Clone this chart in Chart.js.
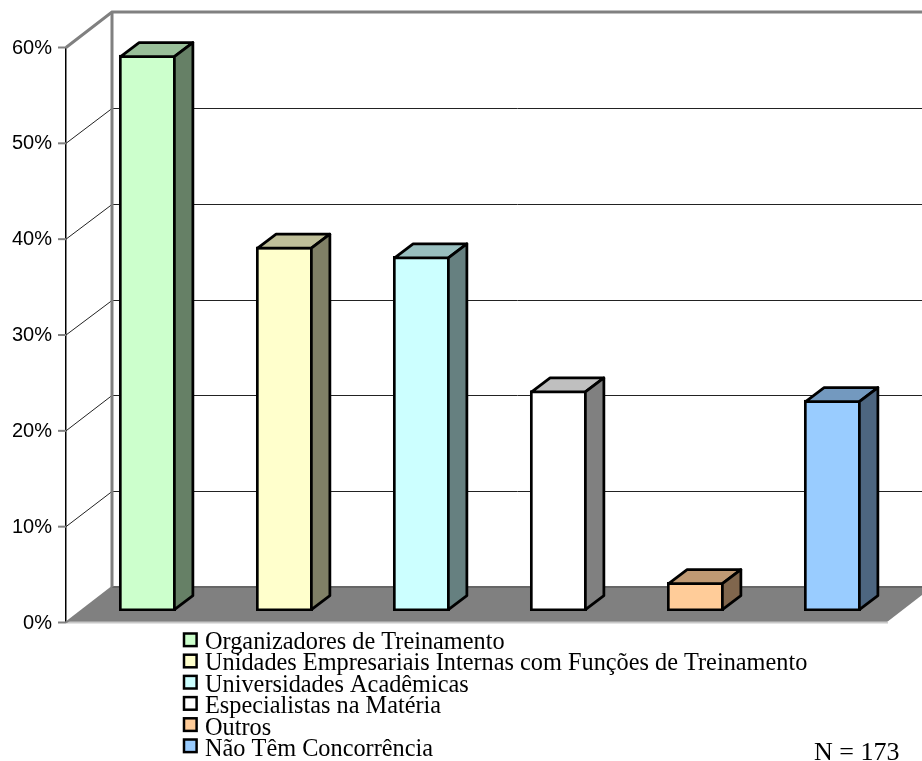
<!DOCTYPE html>
<html>
<head>
<meta charset="utf-8">
<title>Concorrência</title>
<script src="https://cdn.jsdelivr.net/npm/chart.js@4"></script>
<style>
  html, body { margin: 0; padding: 0; background: #fff; }
  canvas { display: block; }
</style>
</head>
<body>
<canvas id="competition-chart" width="922" height="761"></canvas>
<script>
var categories = [
  'Organizadores de Treinamento',
  'Unidades Empresariais Internas com Funções de Treinamento',
  'Universidades Acadêmicas',
  'Especialistas na Matéria',
  'Outros',
  'Não Têm Concorrência'
];
var shares = [58, 38, 37, 23, 3, 22];
var yTickLabels = ['0%', '10%', '20%', '30%', '40%', '50%', '60%'];
var sampleNote = 'N = 173';

var faceColors = ['#ccffcc', '#ffffcc', '#ccffff', '#ffffff', '#ffcc99', '#99ccff'];
var topColors = ['#99bf99', '#bfbf99', '#99bfbf', '#bfbfbf', '#bf9973', '#7399bf'];
var sideColors = ['#668066', '#808066', '#668080', '#808080', '#80664d', '#4d6680'];

// depth of the box the chart sits in, and of each bar inside it
var wallDepth = { x: 46, y: -35.5 };
var barDepth = { x: 18.5, y: -14 };
var barShift = { x: 13, y: -11.5 };
var barLine = 2.75;

function line(ctx, points, color, width) {
  ctx.beginPath();
  points.forEach(function (p, i) {
    if (i == 0) ctx.moveTo(p[0], p[1]);
    else ctx.lineTo(p[0], p[1]);
  });
  ctx.strokeStyle = color;
  ctx.lineWidth = width;
  ctx.stroke();
}

function polygon(ctx, points, fill) {
  ctx.beginPath();
  points.forEach(function (p, i) {
    if (i == 0) ctx.moveTo(p[0], p[1]);
    else ctx.lineTo(p[0], p[1]);
  });
  ctx.closePath();
  ctx.fillStyle = fill;
  ctx.fill();
}

var box3d = {
  id: 'box3d',
  beforeDatasetsDraw: function (chart) {
    var ctx = chart.ctx;
    var area = chart.chartArea;
    var y = chart.scales.y;
    var backLeft = area.left + wallDepth.x;
    var backRight = area.right + wallDepth.x;
    var backBottom = area.bottom + wallDepth.y;
    var backTop = area.top + wallDepth.y;

    ctx.save();

    // tick marks, plus gridlines up the side wall and across the back wall
    y.ticks.forEach(function (tick) {
      var py = y.getPixelForValue(tick.value);
      line(ctx, [[area.left - 8, py], [area.left, py]], '#808080', 2);
      if (tick.value == y.min || tick.value == y.max) return;
      var backY = Math.round(py + wallDepth.y) + 0.5;
      line(ctx, [[area.left, py], [backLeft, backY], [backRight, backY]], '#222', 1);
    });

    // floor
    polygon(ctx, [[area.left, area.bottom], [backLeft, backBottom], [backRight, backBottom], [area.right, area.bottom]], '#808080');
    line(ctx, [[backLeft, backBottom], [backRight, backBottom]], '#666', 2);
    line(ctx, [[area.left, area.bottom], [area.right, area.bottom]], '#c8c8c8', 2);
    line(ctx, [[area.right, area.bottom], [backRight, backBottom]], '#fff', 2);

    // wall edges
    line(ctx, [[area.left, area.bottom], [backLeft, backBottom]], '#808080', 2);
    line(ctx, [[area.left, area.top], [backLeft, backTop], [backRight, backTop]], '#808080', 3);
    line(ctx, [[backLeft, backTop], [backLeft, backBottom]], '#808080', 3);

    // bars stand away from the front edge of the floor
    ctx.translate(barShift.x, barShift.y);
  },
  afterDatasetsDraw: function (chart) {
    var ctx = chart.ctx;
    var inset = barLine / 2;
    chart.getDatasetMeta(0).data.forEach(function (bar, i) {
      var half = bar.width / 2;
      var left = bar.x - half + inset;
      var right = bar.x + half - inset;
      var top = bar.y + inset;
      var bottom = bar.base - inset;
      var dx = barDepth.x;
      var dy = barDepth.y;

      ctx.lineJoin = 'round';
      ctx.lineWidth = barLine;
      ctx.strokeStyle = '#000';

      polygon(ctx, [[left, top], [left + dx, top + dy], [right + dx, top + dy], [right, top]], topColors[i]);
      ctx.stroke();
      polygon(ctx, [[right, top], [right + dx, top + dy], [right + dx, bottom + dy], [right, bottom]], sideColors[i]);
      ctx.stroke();
    });
    ctx.restore();
  }
};

var categoryKey = {
  id: 'categoryKey',
  afterDraw: function (chart) {
    var ctx = chart.ctx;
    ctx.save();
    ctx.font = '24.3px "Liberation Serif"';
    ctx.textBaseline = 'alphabetic';
    categories.forEach(function (name, i) {
      var boxTop = 632.3 + i * 21.2;
      ctx.fillStyle = faceColors[i];
      ctx.fillRect(184, boxTop + 1, 13, 13);
      ctx.strokeStyle = '#000';
      ctx.lineWidth = 2.5;
      ctx.strokeRect(184, boxTop + 1.2, 12.6, 12.6);
      ctx.fillStyle = '#000';
      ctx.fillText(name, 205, 649 + i * 21.4);
    });
    ctx.font = '26px "Liberation Serif"';
    ctx.fillText(sampleNote, 814, 760);
    ctx.restore();
  }
};

new Chart(document.getElementById('competition-chart'), {
  type: 'bar',
  data: {
    labels: categories,
    datasets: [{
      data: shares,
      backgroundColor: faceColors,
      borderColor: '#000',
      borderWidth: barLine,
      borderSkipped: false,
      barThickness: 56.5
    }]
  },
  plugins: [box3d, categoryKey],
  options: {
    responsive: false,
    animation: false,
    layout: { padding: { top: 47.5, right: 34, bottom: 138.5, left: 0 } },
    plugins: { legend: { display: false }, tooltip: { enabled: false } },
    scales: {
      x: { display: false },
      y: {
        min: 0,
        max: 60,
        afterFit: function (scale) { scale.width = 66; },
        border: { color: '#000', width: 1.5 },
        grid: { display: false, drawTicks: false },
        ticks: {
          stepSize: 10,
          padding: 14,
          labelOffset: 0.5,
          color: '#000',
          font: { family: '"Liberation Sans"', size: 20 },
          callback: function (value, index) { return yTickLabels[index]; }
        }
      }
    }
  }
});
</script>
</body>
</html>
